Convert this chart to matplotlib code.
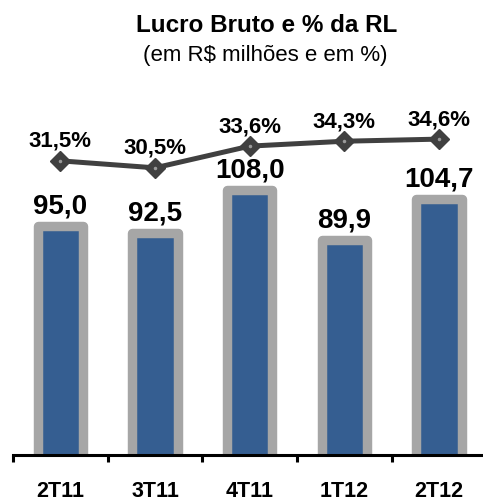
import matplotlib.pyplot as plt
import numpy as np

plt.rcParams['font.family'] = ['Liberation Sans', 'DejaVu Sans']

# data
quarters = ['2T11', '3T11', '4T11', '1T12', '2T12']
lucro_bruto = [95.0, 92.5, 108.0, 89.9, 104.7]
margem = [31.5, 30.5, 33.6, 34.3, 34.6]

bar_labels = ['95,0', '92,5', '108,0', '89,9', '104,7']
pct_labels = ['31,5%', '30,5%', '33,6%', '34,3%', '34,6%']

BLUE = '#355E91'
GRAY = '#A6A6A6'
DARK = '#404040'


def main():
    fig = plt.figure(figsize=(4.83, 5.03), dpi=100)
    ax = fig.add_axes([0.027, 0.0954, 0.98, 0.706])
    x = np.arange(len(quarters))

    ax.bar(x, lucro_bruto, width=0.48, color=BLUE, edgecolor=GRAY,
           linewidth=6.8, joinstyle='round', zorder=2)
    for xi, v, lab in zip(x, lucro_bruto, bar_labels):
        ax.annotate(lab, (xi, v), xytext=(0, 9), textcoords='offset points',
                    ha='center', va='baseline', fontsize=20,
                    fontweight='bold')

    ax.set_xlim(-0.5, 4.47)
    ax.set_ylim(12.2, 140.4)
    ax.set_yticks([])
    for s in ['top', 'right', 'left']:
        ax.spines[s].set_visible(False)
    ax.spines['bottom'].set_linewidth(2.2)
    ax.spines['bottom'].set_zorder(5)
    ax.set_xticks(x)
    ax.set_xticklabels(quarters, fontsize=15.5, fontweight='bold')
    ax.tick_params(axis='x', which='major', length=0, pad=19)
    ax.set_xticks(np.arange(-0.5, 5, 1), minor=True)
    ax.tick_params(axis='x', which='minor', length=5, width=2.2,
                   direction='out')

    ax2 = ax.twinx()
    ax2.set_ylim(-10.5, 40.2)
    ax2.axis('off')
    ax2.plot(x, margem, color=DARK, lw=3.6, marker='D', ms=10,
             mec=DARK, mfc=DARK, zorder=3)
    ax2.plot(x, margem, ls='none', marker='o', ms=1.5, color='#9A9A9A',
             zorder=4)
    for xi, v, lab in zip(x, margem, pct_labels):
        ax2.annotate(lab, (xi, v), xytext=(0, 10), textcoords='offset points',
                     ha='center', va='baseline', fontsize=16,
                     fontweight='bold')

    fig.text(0.553, 0.95, 'Lucro Bruto e % da RL', ha='center', va='center',
             fontsize=17.5, fontweight='bold')
    fig.text(0.549, 0.89, '(em R$ milhões e em %)', ha='center', va='center',
             fontsize=16)

    fig.savefig('out.png', dpi=100)


if __name__ == '__main__':
    main()
